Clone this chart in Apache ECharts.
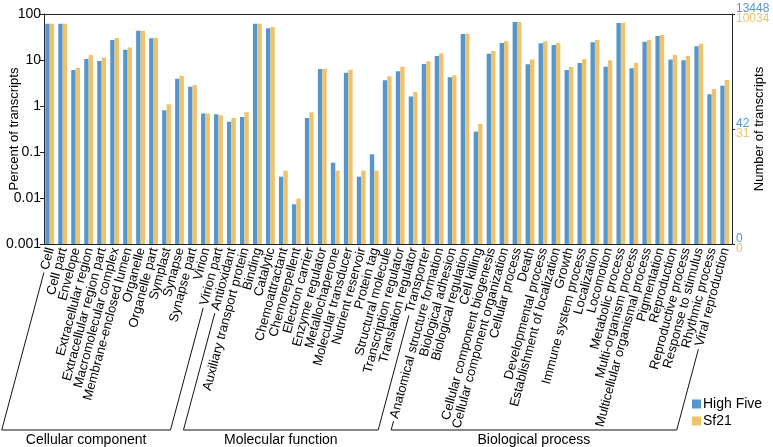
<!DOCTYPE html>
<html>
<head>
<meta charset="utf-8">
<script src="https://cdn.jsdelivr.net/npm/echarts@6/dist/echarts.min.js"></script>
<style>html,body{margin:0;padding:0;background:#fff;}#c{width:773px;height:447px;}</style>
</head>
<body>
<div id="c"></div>
<script>
const categories = [
  'Cell','Cell part','Envelope','Extracellular region','Extracellular region part','Macromolecular complex','Membrane-enclosed lumen','Organelle','Organelle part','Symplast','Synapse','Synapse part','Virion','Virion part',
  'Antioxidant','Auxiliary transport protein','Binding','Catalytic','Chemoattractant','Chemorepellent','Electron carrier','Enzyme regulator','Metallochaperone','Molecular transducer','Nutrient reservoir','Protein tag','Structural molecule','Transcription regulator','Translation regulator','Transporter',
  'Anatomical structure formation','Biological adhesion','Biological regulation','Cell killing','Cellular component biogenesis','Cellular component organization','Cellular process','Death','Developmental process','Establishment of localization','Growth','Immune system process','Localization','Locomotion','Metabolic process','Multi-organism process','Multicellular organismal process','Pigmentation','Reproduction','Reproductive process','Response to stimulus','Rhythmic process','Viral reproduction'
];
const highFive = [
  61,61,6.07,10.5,9.5,27.2,16.8,43.4,29.6,0.805,3.93,2.63,0.69,0.66,
  0.456,0.577,61,48.8,0.0291,0.0073,0.548,6.37,0.0586,5.3,0.0291,0.089,3.61,5.67,1.6,8.18,
  12.2,4.2,36.7,0.277,13.7,23.4,67,8.05,23.0,21.2,6.07,8.6,24.2,7.16,63.7,6.59,25.0,33.2,10.3,9.84,19.8,1.79,2.77
];
const sf21 = [
  61,61,6.7,12.8,11.4,30.1,18.8,43.4,30.6,1.09,4.56,2.86,0.69,0.63,
  0.548,0.728,61,52.2,0.0393,0.0097,0.728,6.37,0.0393,6.16,0.0393,0.0393,4.42,7.16,2.02,9.35,
  14.0,4.64,37,0.406,15.7,25.5,67,10.3,25.5,23.0,7.05,10.5,27.2,9.84,64.8,8.6,27.2,34.9,12.8,12.2,22.6,2.34,3.67
];
const seriesNames = ['High Five','Sf21'];
const groups = [
  {name:'Cellular component', first:0, last:13},
  {name:'Molecular function', first:14, last:29},
  {name:'Biological process', first:30, last:52}
];
const leftTicks = {100:'100',10:'10',1:'1',0.1:'0.1',0.01:'0.01',0.001:'0.001'};
const rightLabels = [['0','0'],['42','31'],['13448','10034']];

const BLUE = '#5597cc', ORANGE = '#efc36e';
const FONT = 'Liberation Sans, Arial, Helvetica, sans-serif';
const LABEL_SIZE = 13, LABEL_MARGIN = 4, ROT = 75;
const Y_MIN = 0.001, Y_MAX = 100;
const BAR_W = 4.4;

function barRenderer(side) {
  return function (params, api) {
    const cat = api.value(0), val = api.value(1);
    const top = api.coord([cat, val]);
    const bot = api.coord([cat, Y_MIN]);
    const split = top[0] - 0.8;
    const x0 = side === 0 ? split - BAR_W : split;
    return {
      type: 'rect',
      shape: {x: x0, y: top[1], width: BAR_W, height: bot[1] - top[1]},
      style: {fill: api.visual('color')}
    };
  };
}

const chart = echarts.init(document.getElementById('c'));
const option = {
  animation: false,
  textStyle: {fontFamily: FONT, color: '#000'},
  grid: {left: 44, right: 41, top: 14, bottom: 203, outerBoundsMode: 'none', containLabel: false},
  legend: {
    data: seriesNames, orient: 'vertical', left: 692, top: 397, padding: 0,
    itemWidth: 9, itemHeight: 9, itemGap: 3, icon: 'rect',
    textStyle: {fontSize: 14, lineHeight: 14, color: '#000', fontFamily: FONT, padding: [0,0,0,-3]}
  },
  xAxis: [{
    type: 'category', data: categories, position: 'bottom',
    axisLine: {lineStyle: {color: '#222', width: 1}},
    axisTick: {inside: true, length: 3, lineStyle: {color: '#222'}},
    axisLabel: {interval: 0, rotate: ROT, fontSize: LABEL_SIZE, margin: LABEL_MARGIN, color: '#000', fontFamily: FONT}
  }, {
    type: 'category', data: categories, position: 'top',
    axisLine: {lineStyle: {color: '#222', width: 1}},
    axisTick: {inside: true, length: 3, lineStyle: {color: '#222'}},
    axisLabel: {show: false}
  }],
  yAxis: [{
    type: 'log', logBase: 10, min: Y_MIN, max: Y_MAX, position: 'left',
    name: 'Percent of transcripts', nameLocation: 'middle', nameGap: 23, nameMoveOverlap: false,
    nameTextStyle: {fontSize: 13, color: '#000', fontFamily: FONT},
    axisLine: {show: true, lineStyle: {color: '#222'}},
    axisTick: {show: true, length: 4, lineStyle: {color: '#222'}},
    minorTick: {show: false},
    splitLine: {show: false},
    axisLabel: {fontSize: 14, color: '#000', margin: 3, formatter: v => leftTicks[Number(v.toPrecision(1))] || ''}
  }, {
    type: 'value', min: 0, max: 2, interval: 1, position: 'right',
    name: 'Number of transcripts', nameLocation: 'middle', nameGap: 21, nameRotate: 90, nameMoveOverlap: false,
    nameTextStyle: {fontSize: 13, color: '#000', fontFamily: FONT},
    axisLine: {show: true, lineStyle: {color: '#222'}},
    axisTick: {show: true, length: 3, lineStyle: {color: '#222'}},
    splitLine: {show: false},
    axisLabel: {
      margin: 4,
      formatter: v => { const p = rightLabels[Math.round(v)]; return '{b|' + p[0] + '}\n{o|' + p[1] + '}'; },
      rich: {
        b: {color: BLUE, fontSize: 12, lineHeight: 10, fontFamily: FONT},
        o: {color: ORANGE, fontSize: 12, lineHeight: 10, fontFamily: FONT}
      }
    }
  }],
  series: [
    {name: seriesNames[0], type: 'custom', renderItem: barRenderer(0), data: highFive.map((v, i) => [i, v]),
     encode: {x: 0, y: 1}, xAxisIndex: 0, yAxisIndex: 0, itemStyle: {color: BLUE}},
    {name: seriesNames[1], type: 'custom', renderItem: barRenderer(1), data: sf21.map((v, i) => [i, v]),
     encode: {x: 0, y: 1}, xAxisIndex: 0, yAxisIndex: 0, itemStyle: {color: ORANGE}}
  ]
};
chart.setOption(option);

// Group brackets, placed from the axis scale and the rotated label geometry
const ctx = document.createElement('canvas').getContext('2d');
ctx.font = LABEL_SIZE + 'px ' + FONT;
const yBase = chart.convertToPixel({yAxisIndex: 0}, Y_MIN) + LABEL_MARGIN;
const rad = ROT * Math.PI / 180;
const dx = Math.cos(rad), dy = Math.sin(rad);
const BOTTOM = 430;
function footOf(idx) {
  const x = chart.convertToPixel({xAxisIndex: 0}, categories[idx]);
  const w = ctx.measureText(categories[idx]).width + 3;
  const sx = x - dx * w, sy = yBase + dy * w;
  const t = (BOTTOM - sy) / dy;
  return {sx: sx, sy: sy, bx: sx - dx * t, by: BOTTOM};
}
const graphics = [];
groups.forEach(g => {
  const a = footOf(g.first), b = footOf(g.last);
  graphics.push({
    type: 'polyline', silent: true,
    shape: {points: [[a.sx, a.sy], [a.bx, a.by], [b.bx, b.by], [b.sx, b.sy]]},
    style: {stroke: '#111', lineWidth: 1, fill: null}
  });
  graphics.push({
    type: 'text', silent: true,
    x: (a.bx + b.bx) / 2, y: 440,
    style: {text: g.name, fontSize: 14, fontFamily: FONT, fill: '#000', align: 'center', verticalAlign: 'middle'}
  });
});
chart.setOption({graphic: graphics});
</script>
</body>
</html>
